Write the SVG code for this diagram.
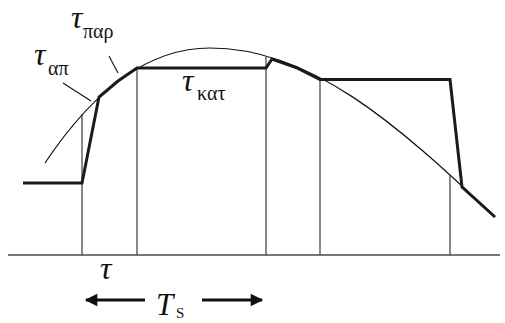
<svg xmlns="http://www.w3.org/2000/svg" width="505" height="323" viewBox="0 0 505 323">
<defs>
<style>
.grid{stroke:#4a4a4a;stroke-width:1.3;fill:none}
.curve{stroke:#111;stroke-width:1.2;fill:none}
.sig{stroke:#1a1a1a;stroke-width:3;fill:none;stroke-linejoin:miter}
.lead{stroke:#111;stroke-width:1.1;fill:none}
.arr{stroke:#111;stroke-width:3;fill:none}
.big{font-family:"Liberation Serif","Times New Roman",serif;font-style:italic;font-size:32px;fill:#111}
.sub{font-family:"Liberation Serif","Times New Roman",serif;font-size:20px;fill:#111}
.tb{font-family:"Liberation Serif","Times New Roman",serif;font-style:italic;font-size:31px;fill:#111}
.ts{font-family:"Liberation Serif","Times New Roman",serif;font-size:15px;fill:#111}
</style>
<marker id="ah" viewBox="0 0 10 10" refX="9" refY="5" markerWidth="4.6" markerHeight="4.2" orient="auto-start-reverse" markerUnits="strokeWidth">
<path d="M0,0 L10,5 L0,10 Z" fill="#111"/>
</marker>
</defs>
<g id="axes">
<line class="grid" x1="8" y1="255" x2="500" y2="255"/>
<line class="grid" x1="82" y1="114" x2="82" y2="255"/>
<line class="grid" x1="137" y1="67" x2="137" y2="255"/>
<line class="grid" x1="266" y1="57" x2="266" y2="255"/>
<line class="grid" x1="320" y1="79" x2="320" y2="255"/>
<line class="grid" x1="450" y1="175" x2="450" y2="255"/>
</g>
<g id="curve">
<path class="curve" d="M45,163 C95,88 150,48 210,48 C310,48 395,122 495,217"/>
</g>
<g id="signal">
<path class="sig" d="M23,183 L82,183 L99,97 L118,81 L137,68 L266,68 L272,59 L296,67.5 L320,79.5 L450,79.5 L462,187 L478,201.5 L495,217"/>
</g>
<g id="connectors">
<line class="lead" x1="63" y1="83" x2="91" y2="101"/>
<line class="lead" x1="109" y1="56" x2="118" y2="73"/>
<line class="arr" x1="145" y1="300" x2="86" y2="300" marker-end="url(#ah)"/>
<line class="arr" x1="202" y1="300" x2="262" y2="300" marker-end="url(#ah)"/>
</g>
<g id="label-par">
<text class="big" x="71" y="28">τ</text>
<text class="sub" x="83" y="38">παρ</text>
</g>
<g id="label-ap">
<text class="big" x="34" y="65">τ</text>
<text class="sub" x="48" y="75">απ</text>
</g>
<g id="label-kat">
<text class="big" x="182" y="91">τ</text>
<text class="sub" x="197" y="100">κατ</text>
</g>
<g id="label-tau">
<text class="big" x="100" y="279">τ</text>
</g>
<g id="label-ts">
<text class="tb" x="156" y="315">T</text>
<text class="ts" x="176" y="318">S</text>
</g>
</svg>
